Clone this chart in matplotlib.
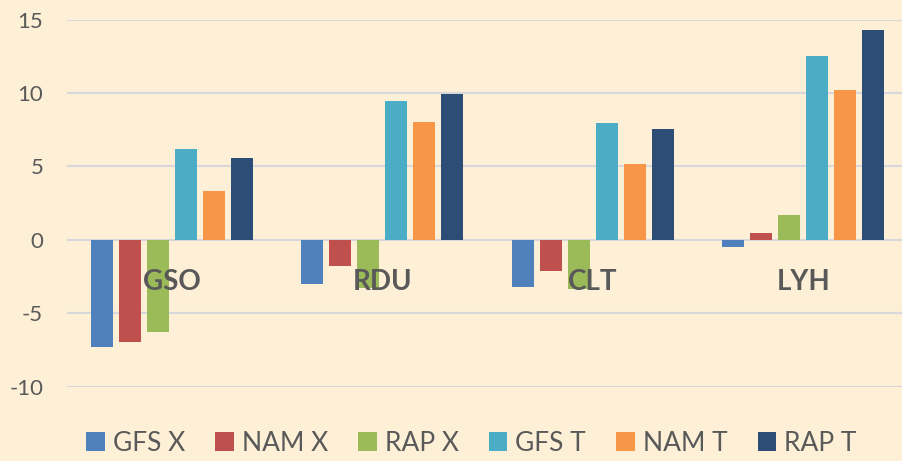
import numpy as np
import matplotlib.pyplot as plt

stations = ["GSO", "RDU", "CLT", "LYH"]
series_names = ["GFS X", "NAM X", "RAP X", "GFS T", "NAM T", "RAP T"]
gfs_x = [-7.27, -3.0, -3.18, -0.48]
nam_x = [-6.93, -1.77, -2.1, 0.45]
rap_x = [-6.25, -3.25, -3.36, 1.7]
gfs_t = [6.18, 9.42, 7.95, 12.5]
nam_t = [3.32, 8.04, 5.13, 10.22]
rap_t = [5.56, 9.92, 7.56, 14.3]
yticks = [-10, -5, 0, 5, 10, 15]

colors = ["#4F81BD", "#C0504D", "#9BBB59", "#4BACC6", "#F79646", "#2C4D75"]
bg = "#FDF0D7"
txt = "#595959"

plt.rcParams['font.family'] = ['Lato', 'DejaVu Sans']

fig = plt.figure(figsize=(9.03, 4.61), dpi=100, facecolor=bg)
ax = fig.add_axes([0.074, 0.1612, 0.932, 0.7965])
ax.set_facecolor(bg)

x = np.arange(len(stations))
step = 0.133
width = 0.1046
all_series = [gfs_x, nam_x, rap_x, gfs_t, nam_t, rap_t]
handles = []
for i, (vals, name, c) in enumerate(zip(all_series, series_names, colors)):
    b = ax.bar(x + (i - 2.5) * step, vals, width, color=c, label=name, zorder=3)
    handles.append(b)

ax.set_xlim(-0.5, 3.5)
ax.set_ylim(-10, 15)
ax.set_yticks(yticks)
ax.set_yticklabels([str(t) for t in yticks], fontsize=16, color=txt)
ax.set_xticks([])
ax.tick_params(axis='y', length=0, pad=17)
ax.grid(axis='y', color="#D8D8DC", linewidth=1.5, zorder=0)
for s in ax.spines.values():
    s.set_visible(False)

for i, st in enumerate(stations):
    ax.text(x[i], -2.85, st, ha='center', va='center', fontsize=20,
            fontweight='bold', color=txt, zorder=5)

fig.legend(handles=handles, loc='center', bbox_to_anchor=(0.522, 0.039),
           ncol=6, frameon=False, fontsize=19, labelcolor=txt,
           handlelength=0.7, handleheight=0.7, handletextpad=0.3,
           columnspacing=1.15, borderpad=0)

fig.savefig("out.png", dpi=100, facecolor=bg)
